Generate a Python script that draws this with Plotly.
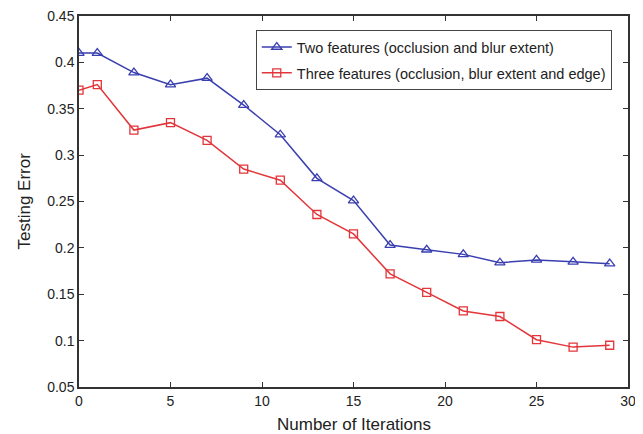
import plotly.graph_objects as go

iterations = [0, 1, 3, 5, 7, 9, 11, 13, 15, 17, 19, 21, 23, 25, 27, 29]
two_features = [0.410, 0.410, 0.389, 0.376, 0.383, 0.354, 0.322, 0.275, 0.251,
                0.203, 0.198, 0.193, 0.184, 0.187, 0.185, 0.183]
three_features = [0.370, 0.376, 0.327, 0.335, 0.316, 0.285, 0.273, 0.236, 0.215,
                  0.172, 0.152, 0.132, 0.126, 0.101, 0.093, 0.095]

blue = "#3a3fb0"
red = "#e2363a"
font_family = "Liberation Sans, Arial, sans-serif"

fig = go.Figure()
fig.add_trace(go.Scatter(
    x=iterations, y=two_features, mode="lines+markers",
    name="Two features (occlusion and blur extent)", legendgroup="a",
    line=dict(color=blue, width=1.5),
    marker=dict(symbol="triangle-up-open", size=9, color=blue, line=dict(width=1.3)),
))
fig.add_trace(go.Scatter(
    x=iterations, y=three_features, mode="lines+markers",
    name="Three features (occlusion, blur extent and edge)", legendgroup="b",
    line=dict(color=red, width=1.5),
    marker=dict(symbol="square-open", size=8, color=red, line=dict(width=1.3)),
))

axis_common = dict(
    showgrid=False, zeroline=False, showline=True, linecolor="#333333", linewidth=1.5,
    mirror="ticks", ticks="inside", ticklen=5, tickcolor="#333333", automargin=False,
    ticklabeloverflow="allow",
    tickfont=dict(family=font_family, size=14, color="#222222"),
)

# page body has an 8px default margin, so the figure is 8px smaller
fig.update_layout(
    width=635, height=426,
    margin=dict(l=71, r=15, t=8, b=47),
    paper_bgcolor="white", plot_bgcolor="white",
    font=dict(family=font_family, color="#222222"),
    xaxis=dict(range=[0, 30], dtick=5, tick0=0, **axis_common),
    yaxis=dict(range=[0.05, 0.45], dtick=0.05, tick0=0.05, **axis_common),
    legend=dict(x=0.322, y=0.962, xanchor="left", yanchor="top",
                bgcolor="white", bordercolor="#444444", borderwidth=1,
                font=dict(size=14.5), traceorder="grouped", tracegroupgap=4,
                itemwidth=30),
    showlegend=True,
    annotations=[
        dict(text="Number of Iterations", x=0.5, y=0, xref="paper", yref="paper",
             xanchor="center", yanchor="middle", yshift=-37, showarrow=False,
             font=dict(size=17, family=font_family, color="#222222")),
        dict(text="Testing Error", x=0, y=0.5, xref="paper", yref="paper",
             xanchor="center", yanchor="middle", xshift=-55, textangle=-90,
             showarrow=False,
             font=dict(size=17, family=font_family, color="#222222")),
    ],
)

fig.write_html("out.html")
